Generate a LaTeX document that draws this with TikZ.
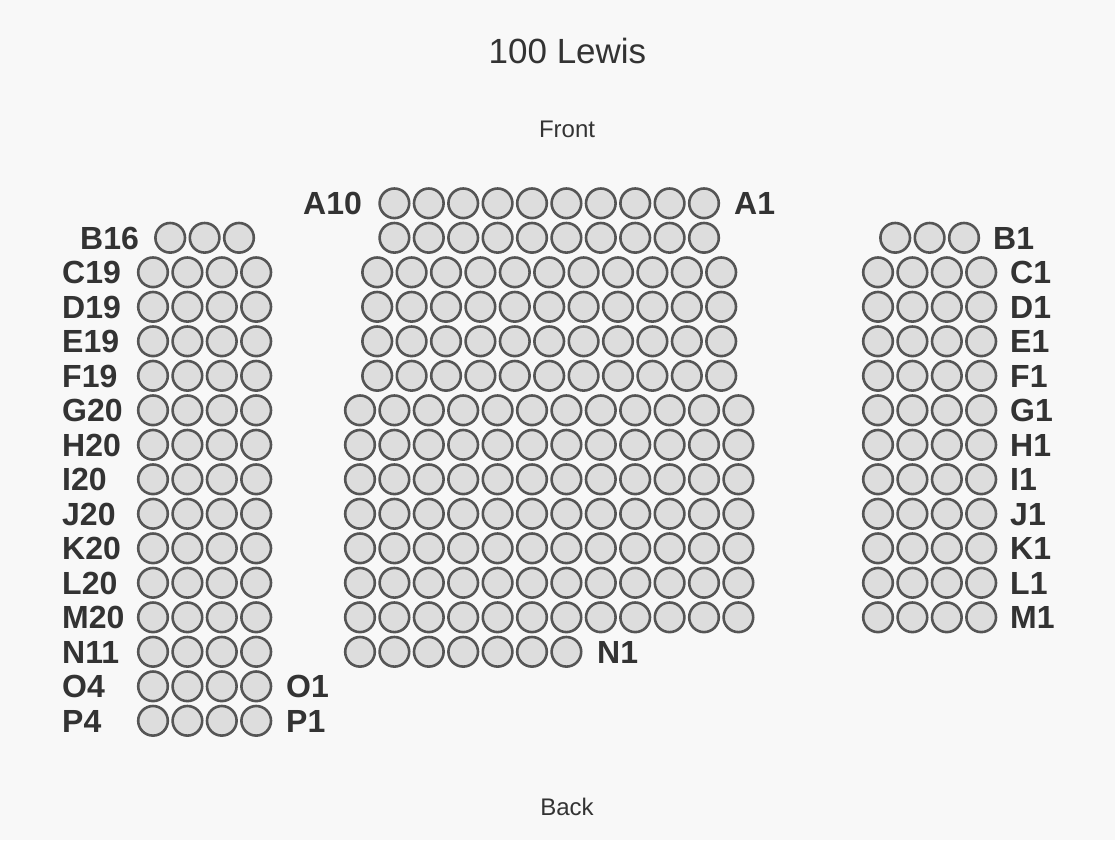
\documentclass[tikz,border=0pt]{standalone}
\usepackage{fontspec}
\setmainfont{Liberation Sans}
\definecolor{bgc}{HTML}{F8F8F8}
\definecolor{seatfill}{HTML}{DDDDDD}
\definecolor{seatline}{HTML}{555555}
\definecolor{txt}{HTML}{333333}
\tikzset{
  seat/.style={circle, minimum size=29.6pt, inner sep=0pt, draw=seatline, fill=seatfill, line width=2.6pt},
  rowlabel/.style={anchor=base west, inner sep=0pt, text=txt, font=\fontsize{32}{38}\selectfont\bfseries},
  caption/.style={anchor=base, inner sep=0pt, text=txt, font=\fontsize{24}{29}\selectfont},
  titletext/.style={anchor=base, inner sep=0pt, text=txt, font=\fontsize{35}{42}\selectfont}
}
\begin{document}
\begin{tikzpicture}[x=1pt,y=-1pt]
\fill[bgc] (0,0) rectangle (1115,840);
\useasboundingbox (0,0) rectangle (1115,840);
% titles
\node[titletext] (title) at (567.5,63.3) {100 Lewis};
\node[caption] (front) at (567,137.3) {Front};
\node[caption] (back) at (567,815) {Back};
% centre section
\foreach \r/\i in {A/0,B/1}
  \foreach \k in {2,4,...,20}
    \node[seat] (c\r\k) at ({360+17.2*\k},{203.3+34.5*\i}) {};
\foreach \r/\i in {C/2,D/3,E/4,F/5}
  \foreach \k in {1,3,...,21}
    \node[seat] (c\r\k) at ({360+17.2*\k},{203.3+34.5*\i}) {};
\foreach \r/\i in {G/6,H/7,I/8,J/9,K/10,L/11,M/12}
  \foreach \k in {0,2,...,22}
    \node[seat] (c\r\k) at ({360+17.2*\k},{203.3+34.5*\i}) {};
\foreach \k in {0,2,...,12}
  \node[seat] (cN\k) at ({360+17.2*\k},{203.3+34.5*13}) {};
% left section
\foreach \j in {1,3,5}
  \node[seat] (lB\j) at ({153+17.2*\j},{203.3+34.5}) {};
\foreach \r/\i in {C/2,D/3,E/4,F/5,G/6,H/7,I/8,J/9,K/10,L/11,M/12,N/13,O/14,P/15}
  \foreach \j in {0,2,4,6}
    \node[seat] (l\r\j) at ({153+17.2*\j},{203.3+34.5*\i}) {};
% right section
\foreach \j in {1,3,5}
  \node[seat] (rB\j) at ({878+17.2*\j},{203.3+34.5}) {};
\foreach \r/\i in {C/2,D/3,E/4,F/5,G/6,H/7,I/8,J/9,K/10,L/11,M/12}
  \foreach \j in {0,2,4,6}
    \node[seat] (r\r\j) at ({878+17.2*\j},{203.3+34.5*\i}) {};
% labels
\node[rowlabel] (labA10) at (303,{203.3+11.4}) {A10};
\node[rowlabel] (labA1) at (734,{203.3+11.4}) {A1};
\node[rowlabel] (labB16) at (80,{237.8+11.4}) {B16};
\node[rowlabel] (labB1) at (993,{237.8+11.4}) {B1};
\foreach \t/\i in {C19/2,D19/3,E19/4,F19/5,G20/6,H20/7,I20/8,J20/9,K20/10,L20/11,M20/12,N11/13,O4/14,P4/15}
  \node[rowlabel] (labL\i) at (62,{203.3+34.5*\i+11.4}) {\t};
\foreach \t/\i in {C1/2,D1/3,E1/4,F1/5,G1/6,H1/7,I1/8,J1/9,K1/10,L1/11,M1/12}
  \node[rowlabel] (labR\i) at (1010,{203.3+34.5*\i+11.4}) {\t};
\node[rowlabel] (labN1) at (597,{203.3+34.5*13+11.4}) {N1};
\node[rowlabel] (labO1) at (286,{203.3+34.5*14+11.4}) {O1};
\node[rowlabel] (labP1) at (286,{203.3+34.5*15+11.4}) {P1};
\end{tikzpicture}
\end{document}
